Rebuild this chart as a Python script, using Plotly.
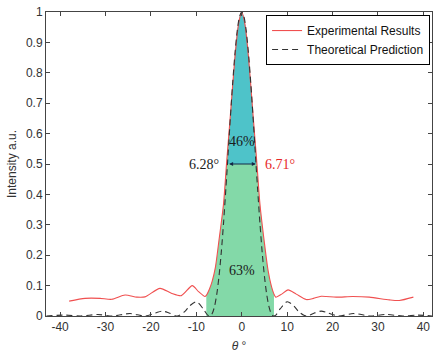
import plotly.graph_objects as go

exp_theta = [-38, -34.5, -31.2, -28.6, -25.7, -23.1, -21.3, -18, -15.5, -13.3, -10.9, -9.5,
             -8.1, -7.8, -7.1, -6.5, -5.8, -5, -4, -3.35, -2.5, -1.5, -0.7, 0,
             0.7, 1.5, 2.5, 3.35, 4, 5, 5.8, 6.5, 7.1, 7.5, 8.8, 10.2, 12, 14.2, 15.8,
             17.5, 20.8, 24.4, 28.1, 32.5, 34.7, 37.8]
exp_int = [0.049, 0.058, 0.058, 0.055, 0.069, 0.062, 0.063, 0.091, 0.075, 0.067, 0.100, 0.080,
           0.064, 0.068, 0.089, 0.115, 0.160, 0.250, 0.370, 0.500, 0.660, 0.850, 0.960, 1.000,
           0.960, 0.850, 0.660, 0.500, 0.370, 0.240, 0.150, 0.100, 0.072, 0.062, 0.072, 0.086, 0.072, 0.054, 0.058,
           0.065, 0.062, 0.064, 0.062, 0.053, 0.051, 0.062]

# Theoretical prediction (black dashed)
th_theta = [-43, -38.8, -35.5, -31.7, -28.4, -24.6, -21.3, -19, -17.5, -16, -14.2, -12.5, -11.5,
            -10, -8.5, -7.5, -7, -6.5, -6, -5.5, -5, -4.5, -4, -3.5, -3.14, -3, -2.5, -2, -1.5,
            -1, -0.5, 0, 0.5, 1, 1.5, 2, 2.5, 3, 3.14, 3.5, 4, 4.5, 5, 5.5, 6, 6.5, 7, 7.5, 8.5,
            10, 11.5, 12.5, 14.2, 16, 17.5, 19, 21.3, 24.6, 28.4, 31.7, 35.5, 38.8, 42]
th_int = [0.0, 0.003, 0.0, 0.005, 0.0, 0.008, 0.0, 0.010, 0.016, 0.010, 0.0, 0.015, 0.033,
          0.047, 0.024, 0.003, 0.0, 0.008, 0.031, 0.071, 0.131, 0.210, 0.307, 0.417, 0.500, 0.534, 0.653, 0.765, 0.862,
          0.937, 0.984, 1.000, 0.984, 0.937, 0.862, 0.765, 0.653, 0.534, 0.500, 0.417, 0.307, 0.210, 0.131, 0.071, 0.031, 0.008, 0.0, 0.003, 0.024,
          0.047, 0.033, 0.015, 0.0, 0.010, 0.016, 0.010, 0.0, 0.008, 0.0, 0.005, 0.0, 0.003, 0.0]

x_ticks = [-40, -30, -20, -10, 0, 10, 20, 30, 40]
x_tick_text = ["-40", "-30", "-20", "-10", "0", "10", "20", "30", "40"]
y_ticks = [0, 0.1, 0.2, 0.3, 0.4, 0.5, 0.6, 0.7, 0.8, 0.9, 1]
y_tick_text = ["0", "0.1", "0.2", "0.3", "0.4", "0.5", "0.6", "0.7", "0.8", "0.9", "1"]

lobe_lo, lobe_hi = -7.8, 7.1
half = 0.5
fwhm_exp, fwhm_th = "6.71°", "6.28°"
pct_top, pct_bottom = "46%", "63%"

green_x = [t for t in exp_theta if lobe_lo <= t <= lobe_hi]
green_y = [v for t, v in zip(exp_theta, exp_int) if lobe_lo <= t <= lobe_hi]
teal_x = [t for t, v in zip(th_theta, th_int) if v >= half and abs(t) < 5]
teal_y = [v for t, v in zip(th_theta, th_int) if v >= half and abs(t) < 5]

fig = go.Figure()
fig.add_trace(go.Scatter(x=green_x, y=green_y, mode="lines", line=dict(width=0, shape="spline"),
                         fill="tozeroy", fillcolor="rgb(131,217,168)", showlegend=False, hoverinfo="skip"))
fig.add_trace(go.Scatter(x=teal_x, y=teal_y, mode="lines", line=dict(width=0),
                         fill="toself", fillcolor="rgb(78,195,201)", showlegend=False, hoverinfo="skip"))
fig.add_trace(go.Scatter(x=exp_theta, y=exp_int, mode="lines", name="Experimental Results",
                         line=dict(color="rgb(240,80,80)", width=1.1, shape="spline", smoothing=0.7)))
fig.add_trace(go.Scatter(x=th_theta, y=th_int, mode="lines", name="Theoretical Prediction",
                         line=dict(color="rgb(50,50,50)", width=1.1, dash="6px,4px", shape="spline", smoothing=0.8)))

serif = "Liberation Serif, DejaVu Serif, serif"
fig.add_annotation(x=0, y=0.573, text=pct_top, showarrow=False, font=dict(family=serif, size=14, color="#1a1a1a"))
fig.add_annotation(x=0, y=0.15, text=pct_bottom, showarrow=False, font=dict(family=serif, size=14, color="#1a1a1a"))
fig.add_annotation(x=-8.2, y=half, text=fwhm_th, showarrow=False, font=dict(family=serif, size=14, color="#1a1a1a"))
fig.add_annotation(x=8.4, y=half, text=fwhm_exp, showarrow=False, font=dict(family=serif, size=14, color="rgb(230,40,40)"))
fig.add_annotation(x=3.1, y=half, ax=-3.1, ay=half, axref="x", ayref="y", xref="x", yref="y",
                   text="", showarrow=True, arrowside="end+start", arrowhead=2, arrowsize=0.8,
                   arrowwidth=1, arrowcolor="rgb(20,40,70)", standoff=0, startstandoff=0)

axis_font = dict(family="Liberation Sans, Arial, sans-serif", size=12, color="#333")
fig.update_xaxes(range=[-43.1, 41.9], tickvals=x_ticks, ticktext=x_tick_text, ticks="inside", ticklen=4, tickcolor="#444",
                 showline=True, linecolor="#444", linewidth=1, mirror="ticks", showgrid=False, zeroline=False,
                 tickfont=axis_font, title=dict(text="<i>θ</i> °", font=axis_font, standoff=8))
fig.update_yaxes(range=[0, 1], tickvals=y_ticks, ticktext=y_tick_text, ticks="inside", ticklen=4, tickcolor="#444",
                 showline=True, linecolor="#444", linewidth=1, mirror="ticks", showgrid=False, zeroline=False,
                 tickfont=axis_font, title=dict(text="Intensity a.u.", font=axis_font, standoff=6))
fig.update_layout(width=435, height=353, margin=dict(l=46, r=2, t=12, b=34),
                  paper_bgcolor="white", plot_bgcolor="white",
                  legend=dict(x=0.995, y=0.99, xanchor="right", yanchor="top", bordercolor="black", borderwidth=1,
                              bgcolor="white", font=dict(family="Liberation Sans, Arial, sans-serif", size=12, color="#111"),
                              tracegroupgap=4))
fig.write_html("out.html", config={"displayModeBar": False},
               post_script="document.body.style.margin='0';document.body.style.overflow='hidden';")
